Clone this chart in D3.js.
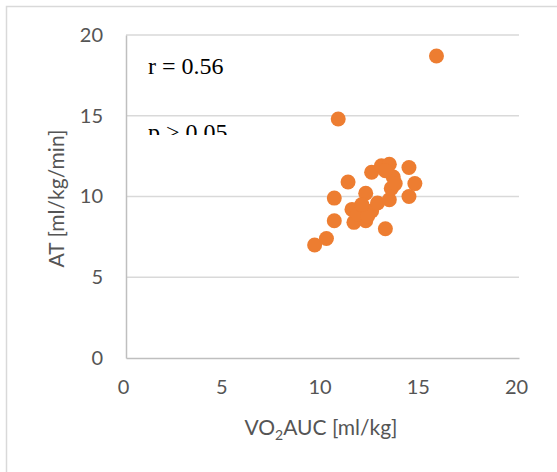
<!DOCTYPE html>
<html>
<head>
<meta charset="utf-8">
<title>AT vs VO2AUC</title>
<style>
  body { margin: 0; background: #fff; }
  text { font-family: Lato, "Open Sans", sans-serif; }
</style>
</head>
<body>
<script src="https://cdn.jsdelivr.net/npm/d3@7"></script>
<script>
// data
var vo2auc = [15.8, 10.8, 9.6, 10.2, 10.6, 10.6, 11.3, 13.2, 12.5, 12.2, 11.5, 11.6, 12.2, 12.5,
              12.8, 13.4, 13.0, 13.4, 13.6, 13.5, 14.4, 14.7, 14.4, 11.8, 12.3, 13.2, 13.7, 12.0];
var at     = [18.7, 14.8, 7.0, 7.4, 8.5, 9.9, 10.9, 8.0, 11.5, 10.2, 9.2, 8.4, 8.5, 9.1,
              9.6, 9.8, 11.9, 12.0, 11.2, 10.5, 11.8, 10.8, 10.0, 8.9, 8.8, 11.6, 10.8, 9.5];
var xTicks = [0, 5, 10, 15, 20];
var yTicks = [0, 5, 10, 15, 20];
var notes = ["r = 0.56", "p > 0.05"];

var width = 557, height = 472;
var margin = {top: 35, right: 38, bottom: 114, left: 126};

var x = d3.scaleLinear().domain([0, 20]).range([margin.left, width - margin.right]);
var y = d3.scaleLinear().domain([0, 20]).range([height - margin.bottom, margin.top]);

var svg = d3.select("body").append("svg")
  .attr("width", width)
  .attr("height", height);

// outer chart border
svg.append("rect")
  .attr("x", 6.5).attr("y", 6.5)
  .attr("width", 600).attr("height", 600)
  .attr("fill", "none")
  .attr("stroke", "#d9d9d9")
  .attr("stroke-width", 1.5);

// gridlines
svg.append("g")
  .selectAll("line")
  .data(yTicks.filter(function (d) { return d > 0; }))
  .enter().append("line")
  .attr("x1", x(0)).attr("x2", x(20))
  .attr("y1", function (d) { return y(d); })
  .attr("y2", function (d) { return y(d); })
  .attr("stroke", "#d9d9d9")
  .attr("stroke-width", 1.5);

// axes
var yAxis = svg.append("g")
  .attr("transform", "translate(" + x(0) + ",0)")
  .call(d3.axisLeft(y).tickValues(yTicks).tickSize(0).tickPadding(23));
var xAxis = svg.append("g")
  .attr("transform", "translate(0," + y(0) + ")")
  .call(d3.axisBottom(x).tickValues(xTicks).tickSize(0).tickPadding(22));

[xAxis, yAxis].forEach(function (a) {
  a.select(".domain").attr("stroke", "#bfbfbf").attr("stroke-width", 1.5);
  a.selectAll("text")
    .attr("fill", "#555")
    .style("font-family", "Lato, sans-serif")
    .style("font-size", "20px");
});
xAxis.selectAll("text").attr("dx", -3);

// axis titles
svg.append("text")
  .attr("transform", "translate(64," + (y(10) + 2) + ") rotate(-90)")
  .attr("text-anchor", "middle")
  .attr("fill", "#555")
  .style("font-size", "21px")
  .text("AT [ml/kg/min]");

var xt = svg.append("text")
  .attr("x", 321).attr("y", 435)
  .attr("text-anchor", "middle")
  .attr("fill", "#555")
  .style("font-size", "21px");
xt.append("tspan").text("VO");
xt.append("tspan").attr("dy", 5).style("font-size", "14px").text("2");
xt.append("tspan").attr("dy", -5).text("AUC [ml/kg]");

// points
var pts = vo2auc.map(function (v, i) { return {x: v, y: at[i]}; });
svg.append("g")
  .selectAll("circle")
  .data(pts)
  .enter().append("circle")
  .attr("cx", function (d) { return x(d.x); })
  .attr("cy", function (d) { return y(d.y); })
  .attr("r", 7.5)
  .attr("fill", "#ed7d31");

// annotation text box, clipped at the bottom like the source
svg.append("defs").append("clipPath").attr("id", "noteclip")
  .append("rect").attr("x", 130).attr("y", 40).attr("width", 150).attr("height", 95);

var note = svg.append("g").attr("clip-path", "url(#noteclip)");
note.selectAll("text")
  .data(notes)
  .enter().append("text")
  .attr("x", 148)
  .attr("y", function (d, i) { return 74 + i * 65.5; })
  .attr("fill", "#000")
  .style("font-family", "'Liberation Serif', 'Times New Roman', serif")
  .style("font-size", "24px")
  .text(function (d) { return d; });
</script>
</body>
</html>
